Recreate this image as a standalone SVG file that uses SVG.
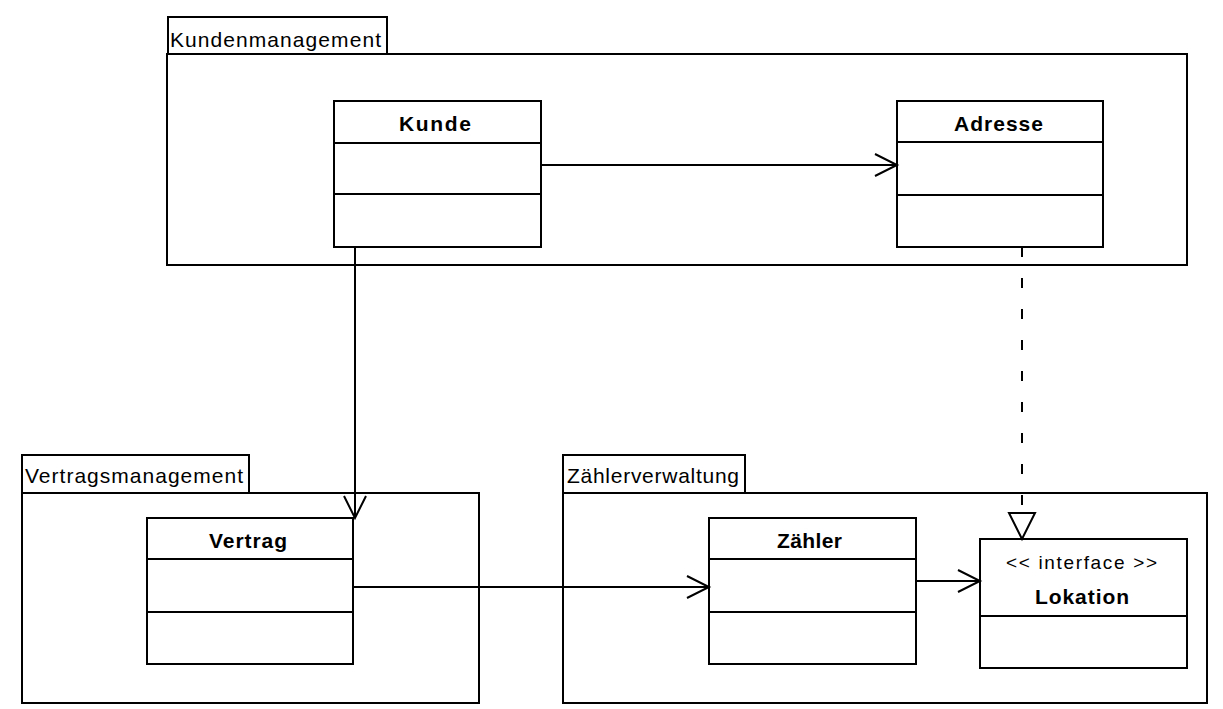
<svg xmlns="http://www.w3.org/2000/svg" width="1223" height="709" viewBox="0 0 1223 709">
<style>
.box{fill:#fff;stroke:#000;stroke-width:2}
.ln{stroke:#000;stroke-width:2;fill:none}
.pk{font-family:"Liberation Sans",Arial,sans-serif;font-size:21px;fill:#000}
.cn{font-family:"Liberation Sans",Arial,sans-serif;font-size:21px;font-weight:bold;fill:#000}
.st{font-family:"Liberation Sans",Arial,sans-serif;font-size:19px;fill:#000}
</style>
<defs>
<marker id="open" markerUnits="userSpaceOnUse" markerWidth="30" markerHeight="30" viewBox="-25 -15 30 30" refX="0" refY="0" orient="auto">
<path d="M-22,-11 L0,0 L-22,11" fill="none" stroke="#000" stroke-width="2"/>
</marker>
</defs>
<rect width="1223" height="709" fill="#fff"/>
<g id="pkg-kundenmanagement">
<rect class="box" x="168" y="17" width="219" height="37"/>
<rect class="box" x="167" y="54" width="1020" height="211"/>
<text class="pk" x="170" y="47" textLength="211" lengthAdjust="spacing">Kundenmanagement</text>
</g>
<g id="pkg-vertragsmanagement">
<rect class="box" x="22" y="455" width="227" height="38"/>
<rect class="box" x="22" y="493" width="457" height="210"/>
<text class="pk" x="25" y="483" textLength="218" lengthAdjust="spacing">Vertragsmanagement</text>
</g>
<g id="pkg-zaehlerverwaltung">
<rect class="box" x="563" y="455" width="182" height="38"/>
<rect class="box" x="563" y="493" width="644" height="210"/>
<text class="pk" x="567" y="483" textLength="172" lengthAdjust="spacing">Zählerverwaltung</text>
</g>
<g id="cls-kunde">
<rect class="box" x="334" y="101" width="207" height="146"/>
<line class="ln" x1="334" y1="143" x2="541" y2="143"/>
<line class="ln" x1="334" y1="194" x2="541" y2="194"/>
<text class="cn" x="399" y="131" textLength="72" lengthAdjust="spacing">Kunde</text>
</g>
<g id="cls-adresse">
<rect class="box" x="897" y="101" width="206" height="146"/>
<line class="ln" x1="897" y1="142" x2="1103" y2="142"/>
<line class="ln" x1="897" y1="195" x2="1103" y2="195"/>
<text class="cn" x="954" y="131" textLength="89" lengthAdjust="spacing">Adresse</text>
</g>
<g id="cls-vertrag">
<rect class="box" x="147" y="518" width="206" height="146"/>
<line class="ln" x1="147" y1="559" x2="353" y2="559"/>
<line class="ln" x1="147" y1="612" x2="353" y2="612"/>
<text class="cn" x="209" y="548" textLength="78" lengthAdjust="spacing">Vertrag</text>
</g>
<g id="cls-zaehler">
<rect class="box" x="709" y="518" width="207" height="146"/>
<line class="ln" x1="709" y1="559" x2="916" y2="559"/>
<line class="ln" x1="709" y1="612" x2="916" y2="612"/>
<text class="cn" x="777" y="548" textLength="65" lengthAdjust="spacing">Zähler</text>
</g>
<g id="cls-lokation">
<rect class="box" x="980" y="539" width="207" height="129"/>
<line class="ln" x1="980" y1="616" x2="1187" y2="616"/>
<text class="st" x="1006" y="569" textLength="151" lengthAdjust="spacing">&lt;&lt; interface &gt;&gt;</text>
<text class="cn" x="1035" y="604" textLength="94" lengthAdjust="spacing">Lokation</text>
</g>
<g id="connectors">
<line class="ln" x1="541" y1="165" x2="897" y2="165" marker-end="url(#open)"/>
<line class="ln" x1="355" y1="247" x2="355" y2="518" marker-end="url(#open)"/>
<line class="ln" x1="353" y1="587" x2="709" y2="587" marker-end="url(#open)"/>
<line class="ln" x1="916" y1="581" x2="980" y2="581" marker-end="url(#open)"/>
<line class="ln" x1="1022" y1="247" x2="1022" y2="513" stroke-dasharray="10 21"/>
<polygon points="1009,513 1035,513 1022,539" fill="#fff" stroke="#000" stroke-width="2"/>
</g>
</svg>
